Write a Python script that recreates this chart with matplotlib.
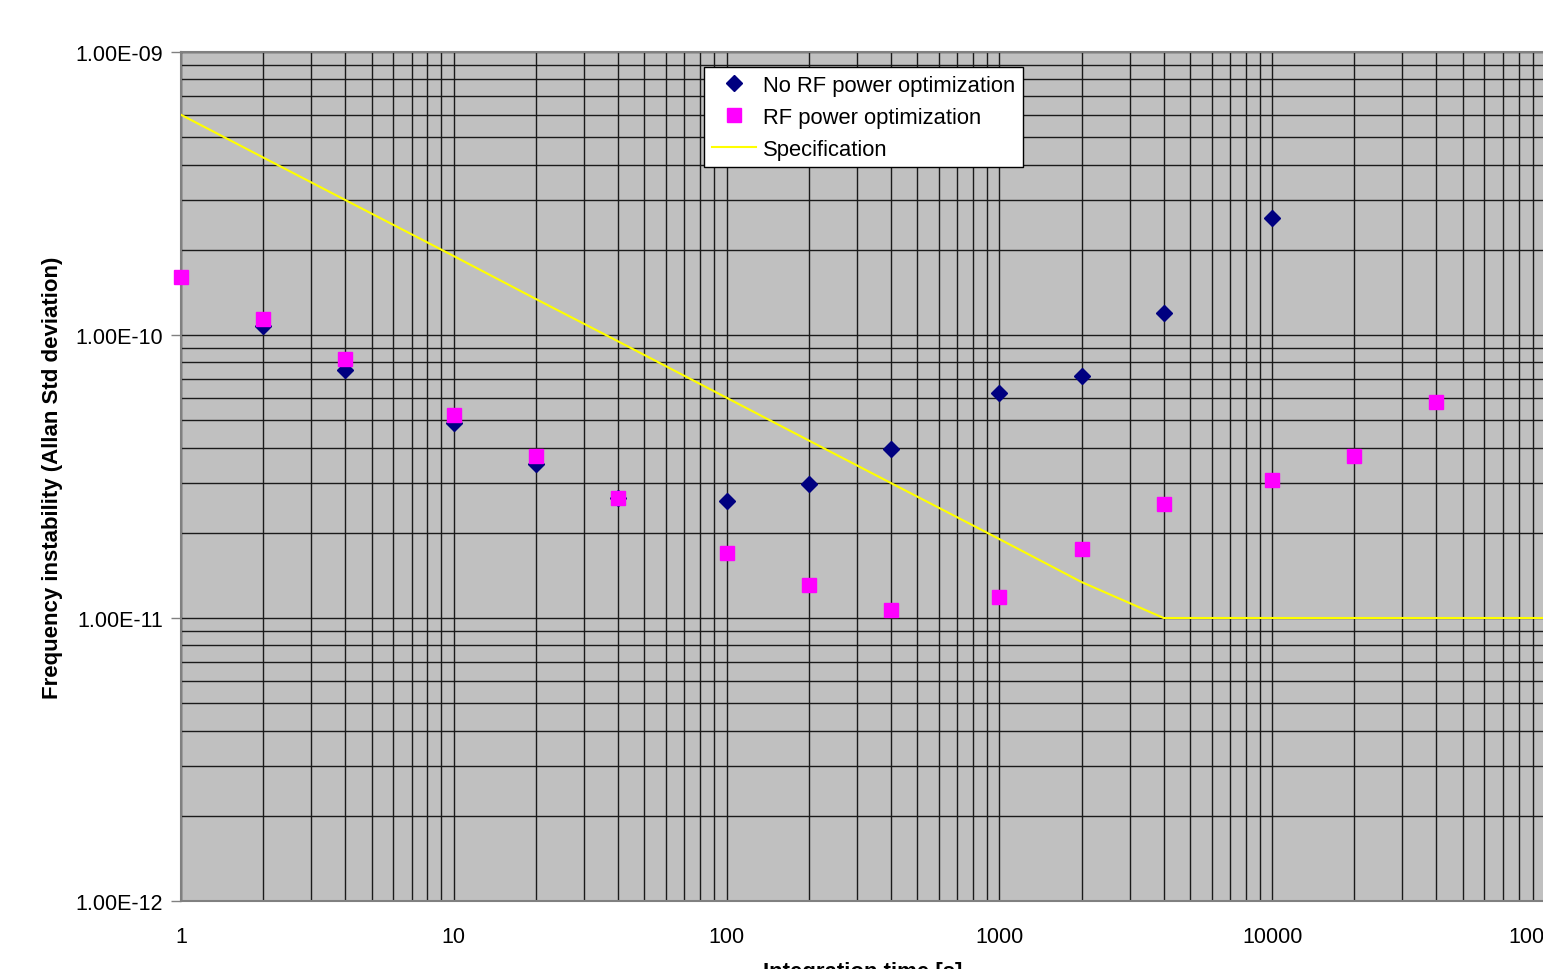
import matplotlib
matplotlib.use("Agg")
import matplotlib.pyplot as plt
from matplotlib.ticker import LogLocator, FixedLocator, NullFormatter

plt.rcParams['font.family'] = ['Liberation Sans', 'DejaVu Sans']

# Data
tau_no_rf = [2, 4, 10, 20, 40, 100, 200, 400, 1000, 2000, 4000, 10000]
adev_no_rf = [1.08e-10, 7.5e-11, 4.9e-11, 3.5e-11, 2.65e-11, 2.59e-11, 2.97e-11,
              3.96e-11, 6.24e-11, 7.17e-11, 1.20e-10, 2.59e-10]

tau_rf = [1, 2, 4, 10, 20, 40, 100, 200, 400, 1000, 2000, 4000, 10000, 20000, 40000]
adev_rf = [1.60e-10, 1.14e-10, 8.2e-11, 5.2e-11, 3.74e-11, 2.65e-11, 1.70e-11, 1.31e-11,
           1.07e-11, 1.19e-11, 1.75e-11, 2.53e-11, 3.08e-11, 3.74e-11, 5.8e-11]

tau_spec = [1, 2, 4, 10, 20, 40, 100, 200, 400, 1000, 2000, 4000, 10000, 20000, 40000, 100000]
adev_spec = [6.0e-10, 4.24e-10, 3.0e-10, 1.9e-10, 1.34e-10, 9.5e-11, 6.0e-11, 4.24e-11,
             3.0e-11, 1.9e-11, 1.34e-11, 1.0e-11, 1.0e-11, 1.0e-11, 1.0e-11, 1.0e-11]

x_ticks = [1, 10, 100, 1000, 10000, 100000]
x_labels = ['1', '10', '100', '1000', '10000', '100000']
y_ticks = [1e-12, 1e-11, 1e-10, 1e-9]
y_labels = ['1.00E-12', '1.00E-11', '1.00E-10', '1.00E-09']

W, H = 1543, 970
fig = plt.figure(figsize=(W / 100, H / 100), dpi=100)
ax = fig.add_axes([181 / W, 1 - 902 / H, (1545 - 181) / W, (902 - 53) / H])
ax.set_facecolor('#c0c0c0')
ax.set_xscale('log')
ax.set_yscale('log')
ax.set_xlim(1, 100000)
ax.set_ylim(1e-12, 1e-9)

ax.plot(tau_spec, adev_spec, color='#ffff00', lw=1.5, label='Specification', zorder=3)
ax.plot(tau_no_rf, adev_no_rf, linestyle='none', marker='D', markersize=8.5,
        color='#000080', label='No RF power optimization', zorder=4, clip_on=False)
ax.plot(tau_rf, adev_rf, linestyle='none', marker='s', markersize=9.5,
        color='#ff00ff', label='RF power optimization', zorder=5, clip_on=False)

ax.xaxis.set_major_locator(FixedLocator(x_ticks))
ax.set_xticklabels(x_labels)
ax.xaxis.set_minor_locator(LogLocator(base=10, subs=range(2, 10), numticks=20))
ax.xaxis.set_minor_formatter(NullFormatter())
ax.yaxis.set_major_locator(FixedLocator(y_ticks))
ax.set_yticklabels(y_labels)
ax.yaxis.set_minor_locator(LogLocator(base=10, subs=range(2, 10), numticks=20))
ax.yaxis.set_minor_formatter(NullFormatter())

ax.grid(True, which='both', color='#1a1a1a', lw=1.0)
ax.set_axisbelow(True)
ax.tick_params(axis='y', which='major', length=7, width=1, color='#808080',
               labelsize=15.5, pad=6)
ax.tick_params(axis='y', which='minor', length=0)
ax.tick_params(axis='x', which='both', length=0, labelsize=15.5, pad=18)
for s in ax.spines.values():
    s.set_color('#808080')
    s.set_linewidth(1.5)

ax.set_ylabel('Frequency instability (Allan Std deviation)', fontsize=16,
              fontweight='bold', labelpad=9)
ax.set_xlabel('Integration time [s]', fontsize=16, fontweight='bold', labelpad=10)

handles, labels = ax.get_legend_handles_labels()
order = [1, 2, 0]
leg = ax.legend([handles[i] for i in order], [labels[i] for i in order],
                loc='upper left', bbox_to_anchor=(704 / W, 1 - 68 / H),
                bbox_transform=fig.transFigure, fancybox=False, framealpha=1,
                edgecolor='black', fontsize=15.8, borderaxespad=0,
                handlelength=2.0, handletextpad=0.35, borderpad=0.35,
                labelspacing=0.5)
leg.get_frame().set_linewidth(1.0)

fig.savefig('out.png', dpi=100)
